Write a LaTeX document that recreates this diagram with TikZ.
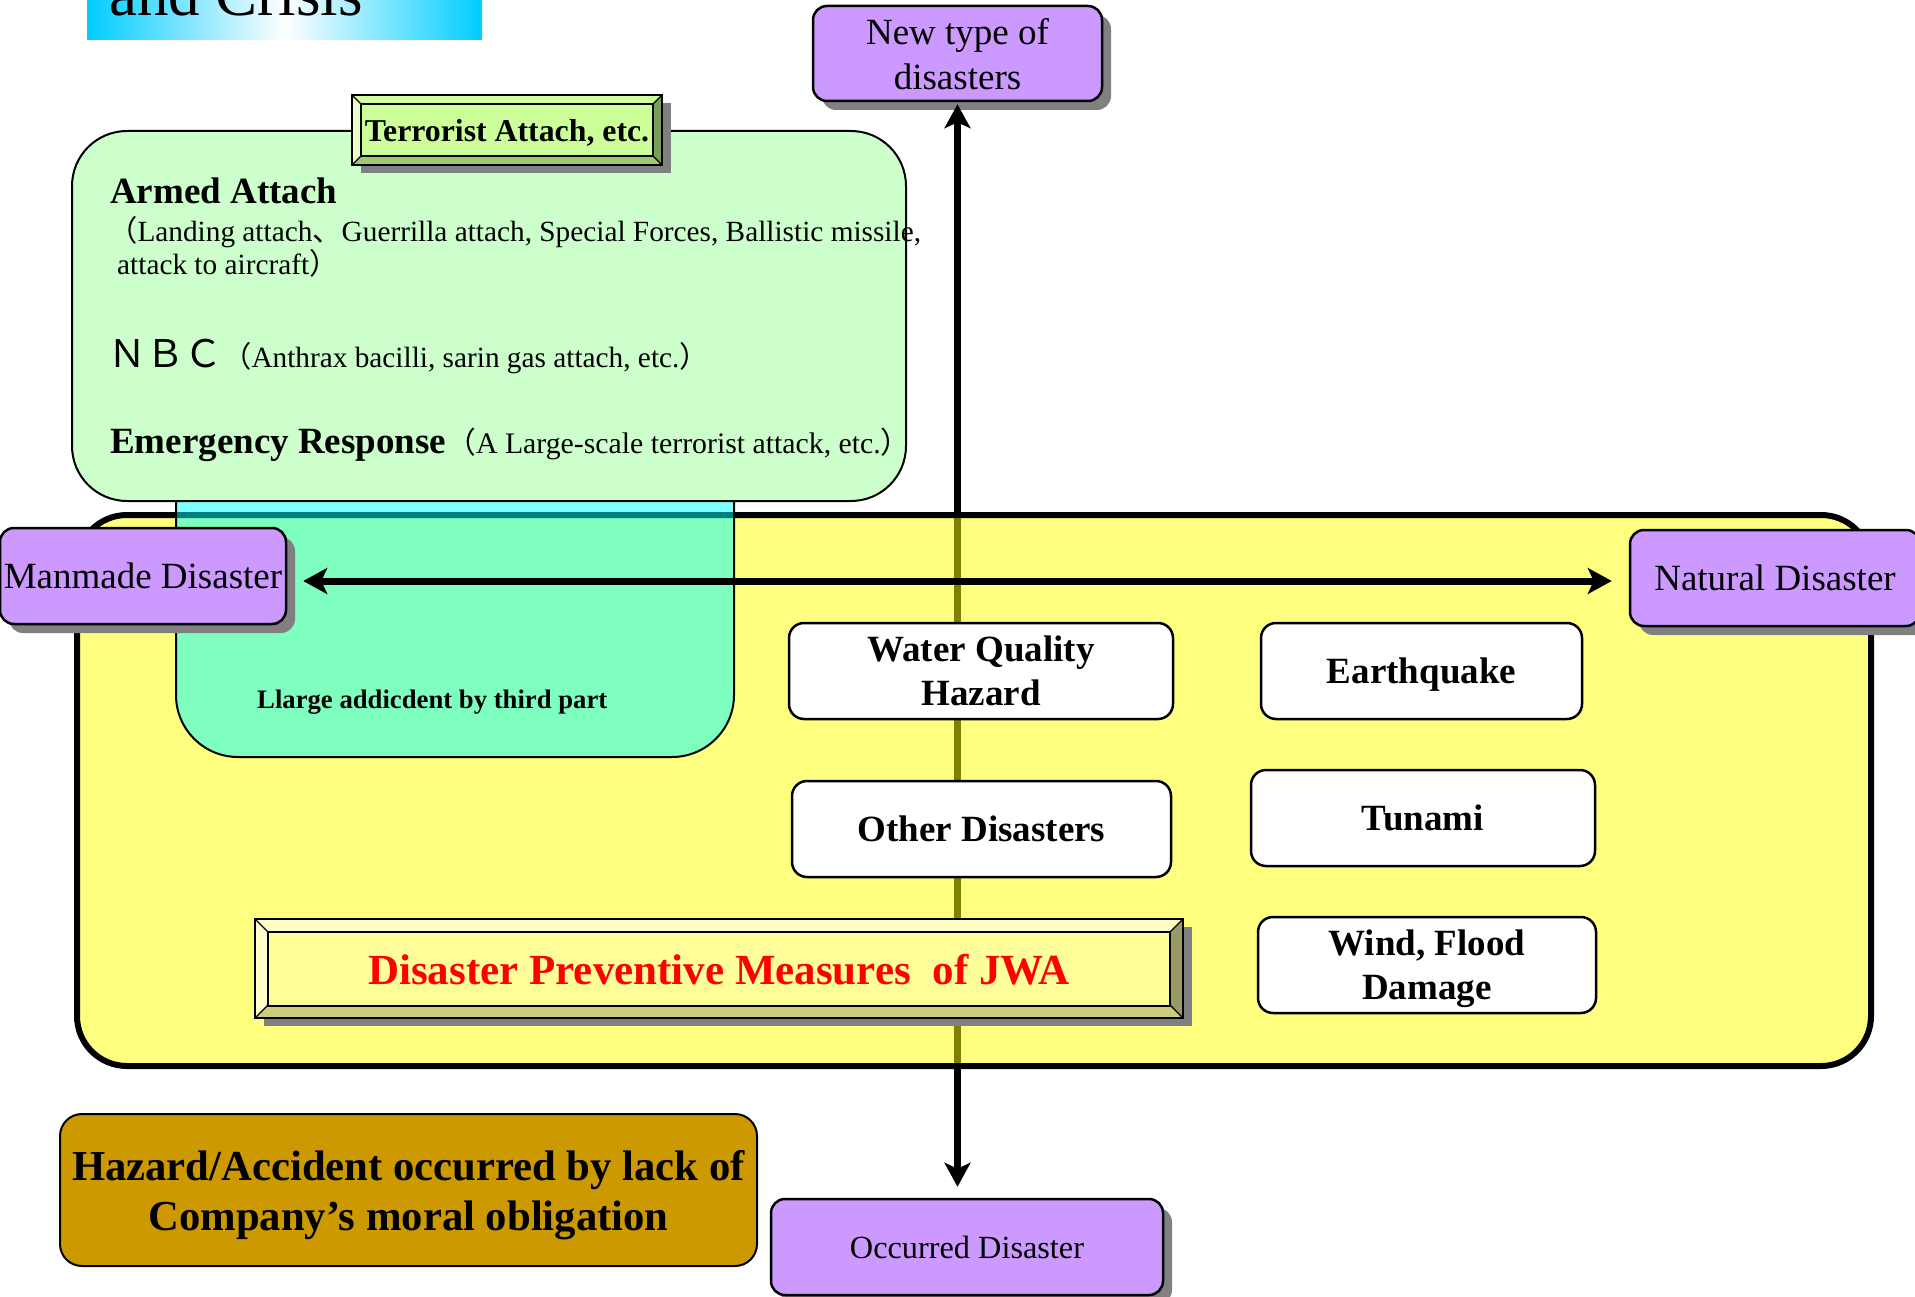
\documentclass[tikz,border=0pt]{standalone}
\usepackage{fontspec}
\setmainfont{Liberation Serif}
\newfontfamily\cjk{Noto Sans CJK JP}
\usetikzlibrary{arrows.meta,shadows}
\definecolor{purpc}{RGB}{204,153,255}
\definecolor{shadowc}{RGB}{128,128,128}
\definecolor{greenc}{RGB}{204,255,204}
\definecolor{hazc}{RGB}{204,153,0}
\definecolor{titlec}{RGB}{0,204,255}
\definecolor{yelc}{RGB}{255,255,0}
\definecolor{cyanc}{RGB}{0,255,255}
\definecolor{redc}{RGB}{255,0,0}
\definecolor{tface}{RGB}{204,255,153}
\definecolor{ttop}{RGB}{210,255,160}
\definecolor{tleft}{RGB}{230,255,204}
\definecolor{tbot}{RGB}{160,200,110}
\definecolor{tright}{RGB}{120,160,90}
\definecolor{jface}{RGB}{255,255,153}
\definecolor{jtop}{RGB}{255,255,195}
\definecolor{jleft}{RGB}{255,255,204}
\definecolor{jbot}{RGB}{204,204,128}
\definecolor{jright}{RGB}{153,153,102}
\tikzset{bigtip/.tip={Stealth[length=24pt,width=26pt,inset=6pt]}}
\newcommand\bevelbox[9]{%
  \fill[shadowc] (#1+9,#2+8) rectangle (#3+9,#4+8);
  \fill[#6] (#1,#2) -- (#3,#2) -- (#3-#5,#2+#5) -- (#1+#5,#2+#5) -- cycle;
  \fill[#7] (#1,#2) -- (#1+#5,#2+#5) -- (#1+#5,#4-#5) -- (#1,#4) -- cycle;
  \fill[#8] (#1,#4) -- (#1+#5,#4-#5) -- (#3-#5,#4-#5) -- (#3,#4) -- cycle;
  \fill[#9] (#3,#2) -- (#3,#4) -- (#3-#5,#4-#5) -- (#3-#5,#2+#5) -- cycle;
  \draw[line width=1.2pt] (#1,#2) -- (#1+#5,#2+#5) (#3,#2) -- (#3-#5,#2+#5)
     (#1,#4) -- (#1+#5,#4-#5) (#3,#4) -- (#3-#5,#4-#5);
  \draw[line width=2.5pt] (#1,#2) rectangle (#3,#4);
}
\begin{document}
\begin{tikzpicture}[x=1pt,y=-1pt,
  purp/.style={draw, line width=2.5pt, fill=purpc, rounded corners=14pt,
    drop shadow={shadow xshift=9pt,shadow yshift=-9pt,fill=shadowc,opacity=1},
    inner sep=0pt, align=center, text depth=0pt},
  wbox/.style={draw, line width=2.5pt, fill=white, rounded corners=15pt, inner sep=0pt,
    align=center, text depth=0pt, font=\bfseries\fontsize{37}{44}\selectfont},
  txt/.style={anchor=base west, inner sep=0pt},
  small/.style={font=\fontsize{29.3}{34}\selectfont},
  conn/.style={line width=7pt},
]
\useasboundingbox (0,0) rectangle (1915,1297);

% title band (cut by the page top)
\shade[left color=titlec, right color=titlec, middle color=white] (87,-30) rectangle (482,40);
\node[txt, font=\fontsize{63}{70}\selectfont] (title) at (109,16) {and Crisis};

% top and bottom purple nodes
\node[purp, minimum width=289pt, minimum height=95pt, font=\fontsize{37}{45}\selectfont]
  (newtype) at (957.5,53.5) {New type of\\disasters};
\node[purp, minimum width=392pt, minimum height=96pt, font=\fontsize{32.3}{38}\selectfont]
  (occurred) at (967,1247) {Occurred Disaster};

% vertical connector (under the translucent yellow area)
\draw[conn, bigtip-bigtip, shorten <=2pt, shorten >=11pt]
  (newtype.south) -- (newtype.south |- occurred.north);

% yellow area
\path[draw=black, line width=6pt, fill=yelc, fill opacity=0.5, rounded corners=50pt]
  (77,515) rectangle (1871,1066);

% cyan area (third party)
\path[draw=black, line width=2pt, fill=cyanc, fill opacity=0.5, rounded corners=62pt]
  (176,380) rectangle (734,757);
\node[txt, font=\bfseries\fontsize{26.7}{32}\selectfont] (third) at (257,708)
  {Llarge addicdent by third part};

% green area
\path[draw=black, line width=2pt, fill=greenc, rounded corners=55pt]
  (72,131) rectangle (906,501);
\node[txt, font=\bfseries\fontsize{37}{44}\selectfont] (armed) at (110,204) {Armed Attach};
\node[txt, small] (armed2) at (108,242)
  {{\cjk （}Landing attach{\cjk 、}Guerrilla attach, Special Forces, Ballistic missile,};
\node[txt, small] (armed3) at (117,275)
  {attack to aircraft{\cjk ）}};
\node[txt] (nbc) at (108,367)
  {{\cjk\fontsize{38}{42}\selectfont ＮＢＣ}{\fontsize{29.3}{34}\selectfont{\cjk （}Anthrax bacilli, sarin gas attach, etc.{\cjk ）}}};
\node[txt] (emerg) at (110,453)
  {{\bfseries\fontsize{37}{44}\selectfont Emergency Response}{\fontsize{29.8}{34}\selectfont{\cjk （}A Large-scale terrorist attack, etc.{\cjk ）}}};

% terrorist bevel label
\bevelbox{352}{95}{662}{165}{9}{ttop}{tleft}{tbot}{tright}
\node[draw, line width=2pt, fill=tface, minimum width=292pt, minimum height=52pt, inner sep=0pt,
  text depth=0pt, font=\bfseries\fontsize{31.8}{38}\selectfont] (terror) at (507,130)
  {Terrorist Attach, etc.};

% side purple nodes
\node[purp, minimum width=286pt, minimum height=96pt, font=\fontsize{37}{44}\selectfont]
  (manmade) at (143,576) {Manmade Disaster};
\node[purp, minimum width=290pt, minimum height=96pt, font=\fontsize{37}{44}\selectfont]
  (natural) at (1775,578) {Natural Disaster};

% white nodes
\node[wbox, minimum width=384pt, minimum height=96pt] (water) at (981,671) {Water Quality\\Hazard};
\node[wbox, minimum width=321pt, minimum height=96pt] (earth) at (1421.5,671) {Earthquake};
\node[wbox, minimum width=379pt, minimum height=96pt] (other) at (981.5,829) {Other Disasters};
\node[wbox, minimum width=344pt, minimum height=96pt] (tunami) at (1423,818) {Tunami};
\node[wbox, minimum width=338pt, minimum height=96pt] (wind) at (1427,965) {Wind, Flood\\Damage};

% JWA bevel label
\bevelbox{255}{919}{1183}{1018}{13}{jtop}{jleft}{jbot}{jright}
\node[draw, line width=2pt, fill=jface, minimum width=902pt, minimum height=74pt, inner sep=0pt,
  text depth=0pt, text=redc, font=\bfseries\fontsize{43}{50}\selectfont] (jwa) at (719,969)
  {Disaster Preventive Measures\ \ of JWA};

% hazard node
\node[draw, line width=2pt, fill=hazc, rounded corners=22pt, minimum width=697pt,
  minimum height=152pt, inner sep=0pt, align=center, text depth=0pt,
  font=\bfseries\fontsize{42.7}{50}\selectfont] (hazard) at (408.5,1190)
  {Hazard/Accident occurred by lack of\\Company’s moral obligation};

% horizontal connector
\draw[conn, bigtip-bigtip, shorten <=16pt, shorten >=17pt]
  ([yshift=-5pt]manmade.east) -- ([yshift=-3pt]natural.west);
\end{tikzpicture}
\end{document}
